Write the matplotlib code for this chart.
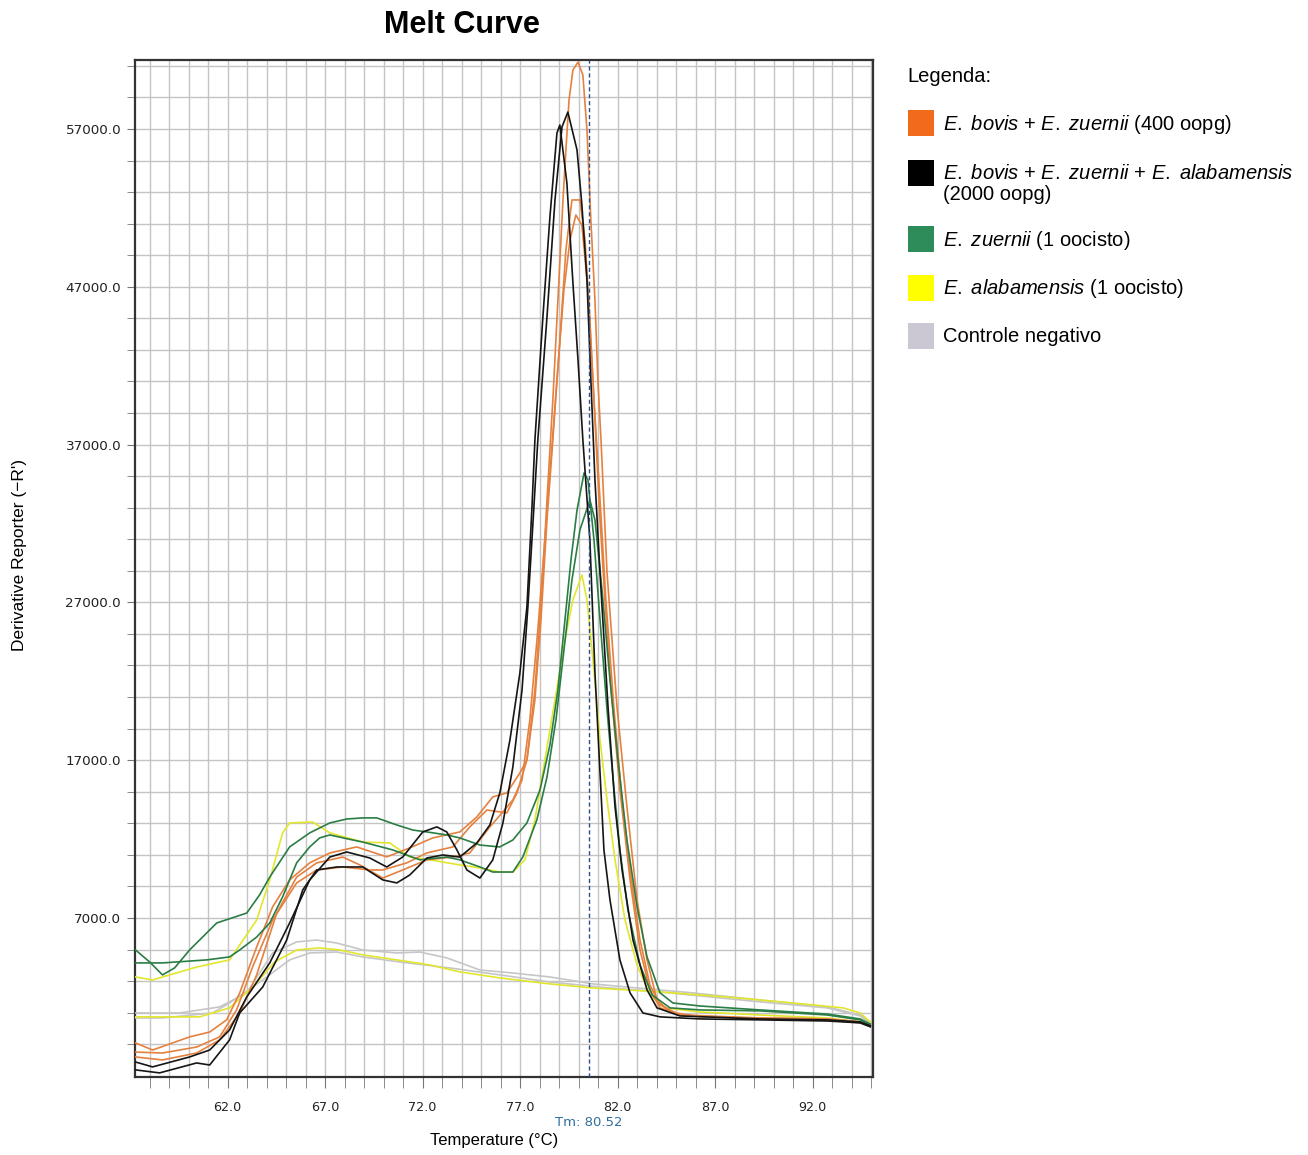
import matplotlib
matplotlib.use("Agg")
import matplotlib.pyplot as plt
from matplotlib.ticker import FixedLocator, MultipleLocator, FuncFormatter
from matplotlib.patches import Rectangle

plt.rcParams['font.family'] = ['Liberation Sans', 'DejaVu Sans']
plt.rcParams['mathtext.fontset'] = 'custom'
plt.rcParams['mathtext.rm'] = 'Liberation Sans'
plt.rcParams['mathtext.it'] = 'Liberation Sans:italic'

# ---- data (temperature in C, derivative -R') ----
orange1_t = [57.28, 58.15, 60.05, 61.08, 61.95, 62.62, 63.49, 64.31, 65.18, 66.21, 67.24, 68.62, 70.16, 71.34,
             72.52, 73.91, 74.78, 75.60, 76.32, 76.99, 77.35, 77.76, 78.12, 78.38, 78.68, 78.94, 79.20, 79.35,
             79.51, 79.71, 79.97, 80.22, 80.43, 80.63, 80.84, 80.99, 81.15, 81.46, 81.97, 82.48, 83.00, 83.51,
             84.02, 84.69, 86.23, 89.31, 92.75, 94.44, 94.96]
orange1_y = [-920, -1370, -540, -230, 540, 2250, 5160, 7700, 9410, 10490, 11120, 11500, 10870, 11440,
             12070, 12450, 13400, 14670, 14920, 16190, 17010, 21450, 27790, 33490, 39830, 46160, 52500, 55670,
             58840, 60730, 61240, 60420, 56940, 51230, 46160, 41090, 37290, 28860, 20370, 14030, 8140, 4340,
             1800, 1040, 730, 660, 600, 410, 160]

orange2_t = [57.28, 58.66, 60.41, 61.59, 62.46, 63.28, 64.31, 65.54, 66.57, 67.90, 69.29, 69.96, 71.19, 72.22,
             73.55, 74.42, 75.30, 75.96, 76.32, 76.84, 77.35, 77.76, 78.07, 78.38, 78.68, 79.04, 79.35, 79.66,
             80.07, 80.33, 80.58, 80.84, 81.10, 81.35, 81.71, 82.12, 82.64, 83.15, 83.66, 84.18, 85.20, 89.31,
             92.75, 94.44, 94.96]
orange2_y = [-1500, -1560, -1180, -540, 1170, 3890, 6870, 9220, 10040, 10230, 10040, 10040, 10490, 11120,
             11500, 12770, 13840, 13720, 13650, 14920, 17010, 20810, 25880, 32220, 37290, 43630, 49330, 52500,
             52500, 49960, 44900, 38560, 32220, 27150, 20810, 15110, 9410, 4970, 2440, 1300, 850, 600,
             540, 350, 160]

orange3_t = [57.28, 58.66, 60.41, 61.59, 62.62, 63.49, 64.52, 65.54, 66.57, 67.90, 68.78, 69.96, 70.98, 72.22,
             73.55, 74.42, 75.45, 76.12, 76.63, 77.10, 77.50, 77.91, 78.27, 78.58, 78.89, 79.25, 79.56, 79.86,
             80.17, 80.48, 80.79, 81.10, 81.40, 81.82, 82.23, 82.64, 83.15, 83.66, 84.18, 85.20, 89.31, 92.75,
             94.44, 94.96]
orange3_y = [-1810, -2000, -1560, -730, 980, 3390, 7310, 9590, 10490, 10860, 10360, 9530, 10040, 10680,
             10860, 11120, 12770, 13720, 14480, 15740, 19550, 25250, 30950, 36020, 41090, 46800, 49960, 51550,
             50910, 46800, 39830, 33490, 27150, 20180, 14480, 10040, 5600, 2750, 1490, 850, 660, 600,
             410, 160]

black1_t = [57.28, 58.15, 60.05, 61.08, 62.10, 62.98, 64.16, 65.18, 66.21, 67.24, 68.11, 69.29, 70.16, 70.98,
            72.01, 72.73, 73.24, 73.76, 74.27, 74.94, 75.60, 76.12, 76.63, 77.10, 77.40, 77.66, 77.91, 78.38,
            78.79, 79.15, 79.45, 79.92, 80.17, 80.43, 80.63, 80.84, 81.10, 81.51, 81.87, 82.23, 82.79, 83.51,
            84.02, 85.20, 89.31, 92.75, 94.44, 94.96]
black1_y = [-2130, -2440, -1810, -1370, -100, 1990, 4150, 6680, 9410, 10860, 11180, 10800, 10230, 10860,
            12450, 12770, 12450, 11310, 10040, 9530, 10680, 13020, 16570, 21450, 26710, 32030, 37290, 45090,
            52500, 57130, 58070, 55670, 52180, 47430, 41090, 34760, 28860, 20370, 14030, 10040, 5600, 2440,
            1300, 790, 600, 540, 410, 160]

black2_t = [57.28, 58.51, 60.41, 61.08, 62.10, 62.62, 63.80, 65.03, 65.85, 66.57, 67.60, 68.93, 69.96, 70.68,
            71.34, 72.22, 73.04, 73.91, 74.78, 75.45, 75.96, 76.48, 76.99, 77.35, 77.61, 77.76, 78.17, 78.53,
            78.89, 79.04, 79.40, 79.71, 79.97, 80.22, 80.58, 80.84, 81.10, 81.30, 81.61, 82.12, 82.64, 83.30,
            84.18, 86.23, 89.31, 92.75, 94.44, 94.96]
black2_y = [-2630, -2820, -2190, -2320, -730, 980, 2620, 5600, 8770, 10040, 10230, 10230, 9410, 9220,
            9720, 10800, 10990, 10860, 11750, 12890, 14920, 18280, 22530, 26710, 33040, 37290, 45090, 51420,
            56740, 57250, 53580, 47240, 42360, 37290, 30950, 22530, 16190, 11310, 8140, 4340, 2250, 980,
            730, 600, 540, 470, 350, 100]

green1_t = [57.28, 58.00, 58.66, 59.28, 60.05, 61.44, 62.98, 63.64, 64.16, 65.18, 66.21, 67.24, 68.11, 68.93,
            69.65, 70.68, 71.50, 72.22, 73.24, 73.91, 74.94, 75.96, 76.63, 77.35, 78.02, 78.53, 78.94, 79.30,
            79.61, 79.92, 80.28, 80.48, 80.79, 81.10, 81.46, 81.82, 82.12, 82.53, 83.15, 83.77, 84.69, 86.23,
            89.31, 92.75, 94.44, 94.96]
green1_y = [4970, 4210, 3390, 3830, 4970, 6680, 7310, 8460, 9590, 11500, 12390, 13020, 13270, 13340,
            13340, 12890, 12570, 12450, 12260, 12070, 11620, 11500, 11940, 13020, 15110, 17960, 21450, 25880,
            29680, 32850, 35200, 34760, 30950, 25880, 20180, 15110, 11310, 7500, 4020, 2120, 1300, 1170,
            1110, 850, 540, 220]

green2_t = [57.28, 58.66, 60.92, 62.10, 62.62, 63.49, 64.16, 64.82, 65.54, 66.21, 66.72, 67.24, 68.42, 68.93,
            70.47, 71.86, 73.24, 73.91, 74.94, 75.60, 76.63, 77.14, 77.86, 78.38, 78.84, 79.25, 79.66, 80.07,
            80.58, 80.84, 81.20, 81.61, 82.02, 82.48, 83.00, 83.51, 84.18, 84.84, 86.23, 89.31, 92.75, 94.44,
            94.96]
green2_y = [4150, 4150, 4340, 4530, 4970, 5790, 6680, 8330, 10490, 11500, 12070, 12260, 11940, 11810,
            11310, 10680, 10860, 10680, 10230, 9910, 9910, 10860, 13210, 15930, 19550, 23980, 28420, 31590,
            33490, 32220, 27790, 22080, 17010, 11940, 7700, 4530, 2250, 1610, 1420, 1170, 910, 600,
            280]

yellow1_t = [57.28, 58.15, 60.41, 62.10, 63.49, 64.16, 64.82, 65.18, 66.36, 67.24, 68.93, 70.32, 71.34, 72.37,
             73.91, 74.94, 75.96, 76.63, 77.25, 77.76, 78.27, 78.79, 79.30, 79.71, 80.17, 80.43, 80.74, 81.10,
             81.46, 81.87, 82.38, 83.00, 83.66, 84.43, 86.23, 89.31, 92.75, 94.44, 94.96]
yellow1_y = [3260, 3070, 3890, 4340, 6870, 9410, 12390, 13020, 13080, 12390, 11810, 11750, 10860, 10680,
             10360, 10170, 9910, 9910, 10680, 13210, 17010, 20810, 24620, 27150, 28740, 27150, 23350, 18280,
             14480, 10680, 6870, 4020, 2120, 1300, 1040, 850, 660, 410, 220]

yellow2_t = [57.28, 60.56, 62.10, 63.39, 64.41, 65.54, 66.72, 67.75, 68.93, 70.68, 72.37, 73.91, 75.96, 78.53,
             80.74, 82.48, 84.18, 87.62, 91.00, 93.57, 94.44, 94.96]
yellow2_y = [730, 730, 1300, 2750, 4210, 4970, 5100, 4970, 4660, 4340, 4020, 3580, 3200, 2820,
             2560, 2440, 2310, 1990, 1610, 1300, 980, 410]

gray1_t = [57.28, 59.54, 61.59, 62.98, 64.31, 65.54, 66.57, 67.60, 68.93, 70.68, 71.86, 73.24, 74.94, 76.63,
           78.53, 80.74, 82.48, 85.87, 89.31, 92.75, 94.44, 94.96]
gray1_y = [980, 980, 1360, 2250, 4780, 5480, 5600, 5410, 4970, 4780, 4840, 4470, 3700, 3510,
           3260, 2820, 2620, 2250, 1800, 1360, 850, 410]

gray2_t = [57.28, 58.66, 61.23, 62.10, 63.80, 65.18, 66.21, 67.60, 68.93, 70.83, 73.40, 75.96, 78.53, 81.10,
           84.18, 89.31, 92.75, 94.44, 94.96]
gray2_y = [660, 660, 980, 1610, 3070, 4340, 4780, 4840, 4530, 4210, 3830, 3390, 2940, 2620,
           2310, 1680, 1300, 790, 350]

tm_value = 80.52
x_major = [62.0, 67.0, 72.0, 77.0, 82.0, 87.0, 92.0]
y_major = [7000, 17000, 27000, 37000, 47000, 57000]

legend_labels = [r"$\mathit{E.}$ $\mathit{bovis}$ + $\mathit{E.}$ $\mathit{zuernii}$ (400 oopg)",
                 r"$\mathit{E.}$ $\mathit{bovis}$ + $\mathit{E.}$ $\mathit{zuernii}$ + $\mathit{E.}$ $\mathit{alabamensis}$"
                 + "\n(2000 oopg)",
                 r"$\mathit{E.}$ $\mathit{zuernii}$ (1 oocisto)",
                 r"$\mathit{E.}$ $\mathit{alabamensis}$ (1 oocisto)",
                 "Controle negativo"]
legend_colors = ['#f26a1b', '#000000', '#2e8b5a', '#ffff00', '#cbc8d4']

# ---- figure ----
fig = plt.figure(figsize=(13.08, 11.55), dpi=100)
ax = fig.add_axes([135 / 1308, 1 - 1077 / 1155, 738 / 1308, 1017 / 1155])

c_or, c_bk, c_gr, c_ye, c_gy = '#e5813f', '#151515', '#2a7d45', '#e2e62c', '#c6c6c6'
curves = [
    (gray1_t, gray1_y, c_gy), (gray2_t, gray2_y, c_gy),
    (yellow2_t, yellow2_y, c_ye), (yellow1_t, yellow1_y, c_ye),
    (orange1_t, orange1_y, c_or), (orange2_t, orange2_y, c_or), (orange3_t, orange3_y, c_or),
    (green1_t, green1_y, c_gr), (green2_t, green2_y, c_gr),
    (black1_t, black1_y, c_bk), (black2_t, black2_y, c_bk),
]
for t, y, c in curves:
    ax.plot(t, y, color=c, lw=1.2, zorder=3, solid_joinstyle='round')

ax.axvline(tm_value, color='#2b4f8a', lw=1.0, ls=(0, (3, 2)), zorder=4)

ax.set_xlim(57.25, 95.1)
ax.set_ylim(-3080, 61370)

ax.xaxis.set_major_locator(FixedLocator(x_major))
ax.xaxis.set_minor_locator(MultipleLocator(1.0))
ax.yaxis.set_major_locator(FixedLocator(y_major))
ax.yaxis.set_minor_locator(FixedLocator(list(range(-1000, 61001, 2000))))
ax.xaxis.set_major_formatter(FuncFormatter(lambda v, p: f"{v:.1f}"))
ax.yaxis.set_major_formatter(FuncFormatter(lambda v, p: f"{v:.1f}"))

ax.grid(which='both', color='#c4c4c4', lw=1.0, zorder=0)
ax.set_axisbelow(True)
ax.tick_params(axis='x', which='both', direction='out', length=8, color='#777777', pad=9)
ax.tick_params(axis='y', which='both', direction='out', length=6, color='#777777', pad=4)
for lab in ax.get_xticklabels():
    lab.set_fontfamily('DejaVu Sans')
    lab.set_fontsize(9.2)
    lab.set_color('#222222')
for lab in ax.get_yticklabels():
    lab.set_fontfamily('DejaVu Sans')
    lab.set_fontsize(9.7)
    lab.set_color('#222222')
for sp in ax.spines.values():
    sp.set_color('#333333')
    sp.set_linewidth(1.6)

ax.text(tm_value, -0.045, f"Tm: {tm_value:.2f}", transform=ax.get_xaxis_transform(),
        ha='center', va='center', fontsize=9.5, color='#2f6f9f', family='DejaVu Sans')

fig.text(462 / 1308, 1 - 25 / 1155, "Melt Curve", ha='center', va='center',
         fontsize=22, fontweight='bold')
fig.text(494 / 1308, 1 - 1141 / 1155, "Temperature (°C)", ha='center', va='center', fontsize=12)
fig.text(20 / 1308, 1 - 555 / 1155, "Derivative Reporter (\u2212R')", ha='center', va='center',
         rotation=90, fontsize=12.5)

# legend drawn by hand, outside the axes
fig.text(907 / 1308, 1 - 77 / 1155, "Legenda:", ha='left', va='center', fontsize=14.5)
patch_y = [123, 173, 239, 288, 336]
text_y = [125, 184, 240, 289, 337]
for lab, col, py, ty in zip(legend_labels, legend_colors, patch_y, text_y):
    fig.add_artist(Rectangle((908 / 1308, 1 - (py + 13) / 1155), 26 / 1308, 26 / 1155,
                             transform=fig.transFigure, facecolor=col, edgecolor='none'))
    fig.text(943 / 1308, 1 - ty / 1155, lab, ha='left', va='center', fontsize=14.5, linespacing=1.1)

fig.savefig("out.png", dpi=100, facecolor='white')
